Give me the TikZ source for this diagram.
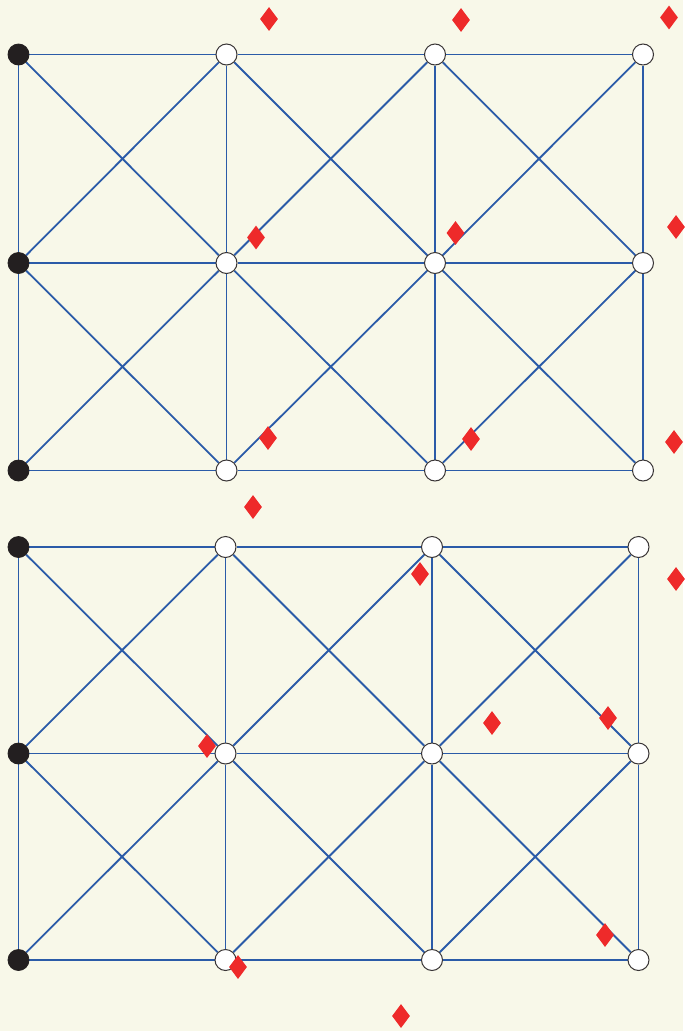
\documentclass[tikz,border=0pt]{standalone}
\usepackage{tikz}
\usetikzlibrary{shapes.geometric,backgrounds}
\definecolor{paperCream}{HTML}{F8F8E9}
\definecolor{barBlue}{HTML}{2B5BA8}
\definecolor{loadRed}{HTML}{EE2A2A}
\definecolor{pinBlack}{HTML}{231F20}

\tikzset{
  bar/.style={draw=barBlue,line width=1.8pt},
  pinned/.style={circle,fill=pinBlack,draw=pinBlack,line width=0.8pt,
                 minimum size=21pt,inner sep=0pt},
  joint/.style={circle,fill=white,draw=pinBlack!90,line width=1pt,
                minimum size=21pt,inner sep=0pt},
  redload/.style={diamond,fill=loadRed,inner sep=0pt,
                  minimum width=18pt,minimum height=24pt}
}

\begin{document}
\begin{tikzpicture}[x=1pt,y=-1pt]
  % joints of the upper and lower frames
  \foreach \r/\y in {0/54.5,1/263,2/470.5}{
    \node[pinned] (t0\r) at (18.5,\y) {};
    \foreach \k/\x in {1/226.5,2/435,3/643}
      \node[joint] (t\k\r) at (\x,\y) {};
  }
  \foreach \r/\y in {0/547,1/753.5,2/960}{
    \node[pinned] (b0\r) at (18.5,\y) {};
    \foreach \k/\x in {1/225.5,2/432,3/638.5}
      \node[joint] (b\k\r) at (\x,\y) {};
  }

  \begin{scope}[on background layer]
    \fill[paperCream] (0,0) rectangle (683,1031);
    \foreach \g in {t,b}{
      % horizontal bars
      \foreach \k/\m in {0/1,1/2,2/3}
        \foreach \r in {0,1,2}
          \draw[bar] (\g\k\r) -- (\g\m\r);
      % vertical bars
      \foreach \k in {0,1,2,3}
        \foreach \r/\s in {0/1,1/2}
          \draw[bar] (\g\k\r) -- (\g\k\s);
      % cross bracing
      \foreach \k/\m in {0/1,1/2,2/3}
        \foreach \r/\s in {0/1,1/2}{
          \draw[bar] (\g\k\r) -- (\g\m\s);
          \draw[bar] (\g\m\r) -- (\g\k\s);
        }
    }
  \end{scope}

  % loads
  \foreach \x/\y [count=\i] in {269/19,461/20,669/17.5,256/237.5,455.5/233,
      676/227,268/438,471/439,674/442,253/507,420/574,676/579,
      492/723,608/718,207/746,605/935,238/967,401/1016}
    \node[redload] (load\i) at (\x,\y) {};
\end{tikzpicture}
\end{document}
